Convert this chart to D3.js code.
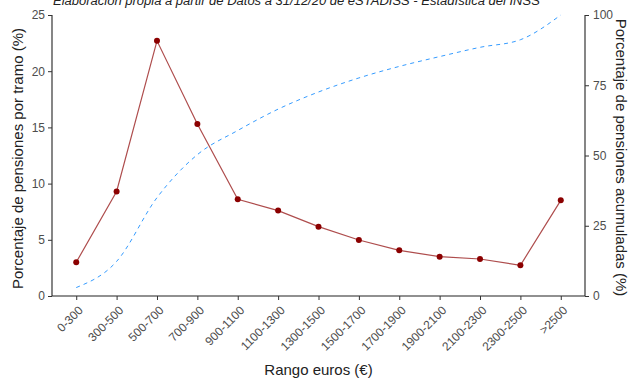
<!DOCTYPE html>
<html><head><meta charset="utf-8">
<script src="https://cdn.jsdelivr.net/npm/d3@7"></script>
<style>body{margin:0;background:#fff}svg{display:block}text{font-family:"Liberation Sans",Arial,sans-serif}</style>
</head><body><svg id="c" width="629" height="378"></svg>
<script>
const categories = ["0-300","300-500","500-700","700-900","900-1100","1100-1300","1300-1500","1500-1700","1700-1900","1900-2100","2100-2300","2300-2500",">2500"];
const pctTramo = [3.0, 9.3, 22.7, 15.3, 8.6, 7.6, 6.17, 4.98, 4.06, 3.5, 3.29, 2.73, 8.51];
const pctAcum = [3.0, 12.3, 35.0, 50.3, 58.9, 66.5, 72.6, 77.6, 81.7, 85.2, 88.5, 91.2, 100];
const leftTicks = [0, 5, 10, 15, 20, 25];
const rightTicks = [0, 25, 50, 75, 100];
const titleText = "Elaboración propia a partir de Datos a 31/12/20 de eSTADISS - Estadística del INSS";

const svg = d3.select("#c");
const L = 52, R = 585, T = 15, B = 296;
const x = d3.scalePoint().domain(categories).range([L, R]).padding(0.6);
const yL = d3.scaleLinear().domain([0, 25]).range([B, T]);
const yR = d3.scaleLinear().domain([0, 100]).range([B, T]);
const grey = "#4d4d4d";

// axes
const axL = svg.append("g").attr("transform", `translate(${L},0)`).call(d3.axisLeft(yL).tickValues(leftTicks).tickSize(4).tickPadding(3));
const axR = svg.append("g").attr("transform", `translate(${R},0)`).call(d3.axisRight(yR).tickValues(rightTicks).tickSize(4).tickPadding(4));
const axB = svg.append("g").attr("transform", `translate(0,${B})`).call(d3.axisBottom(x).tickSize(4).tickPadding(3));
[axL, axR, axB].forEach(a => {
  a.select(".domain").attr("stroke", "#222").attr("stroke-width", 1.1);
  a.selectAll(".tick line").attr("stroke", "#333");
  a.selectAll(".tick text").attr("fill", grey).style("font-size", "12px");
});
axL.select(".domain").attr("d", `M0,${B}V${T}`);
axR.select(".domain").attr("d", `M0,${B}V${T}`);
axB.select(".domain").attr("d", `M${L},0H${R}`);
axB.selectAll(".tick text").style("font-size", "12px").attr("text-anchor", "end")
  .attr("dy", null).attr("y", 0)
  .attr("transform", "translate(7,15) rotate(-45)");

// cumulative line
svg.append("path").datum(pctAcum)
  .attr("fill", "none").attr("stroke", "#1E90FF").attr("stroke-width", 0.9)
  .attr("stroke-dasharray", "4,4")
  .attr("d", d3.line().x((d, i) => x(categories[i])).y(d => yR(d)).curve(d3.curveMonotoneX));

// tramo line
svg.append("path").datum(pctTramo)
  .attr("fill", "none").attr("stroke", "#8B0000").attr("stroke-opacity", 0.7).attr("stroke-width", 1.2)
  .attr("d", d3.line().x((d, i) => x(categories[i])).y(d => yL(d)));
svg.selectAll("circle.p").data(pctTramo).join("circle").attr("class", "p")
  .attr("cx", (d, i) => x(categories[i])).attr("cy", d => yL(d)).attr("r", 3).attr("fill", "#8B0000");

// titles
svg.append("text").attr("x", 53).attr("y", 5).style("font-size", "13px").style("font-style", "italic").attr("fill", "#222").text(titleText);
svg.append("text").attr("transform", `translate(23,${(T + B) / 2 + 3}) rotate(-90)`).attr("text-anchor", "middle").style("font-size", "15px").attr("fill", "#222").text("Porcentaje de pensiones por tramo (%)");
svg.append("text").attr("transform", `translate(616,${(T + B) / 2 + 2}) rotate(90)`).attr("text-anchor", "middle").style("font-size", "15px").attr("fill", "#222").text("Porcentaje de pensiones acumuladas (%)");
svg.append("text").attr("x", (L + R) / 2).attr("y", 375).attr("text-anchor", "middle").style("font-size", "15px").attr("fill", "#222").text("Rango euros (€)");
</script></body></html>
